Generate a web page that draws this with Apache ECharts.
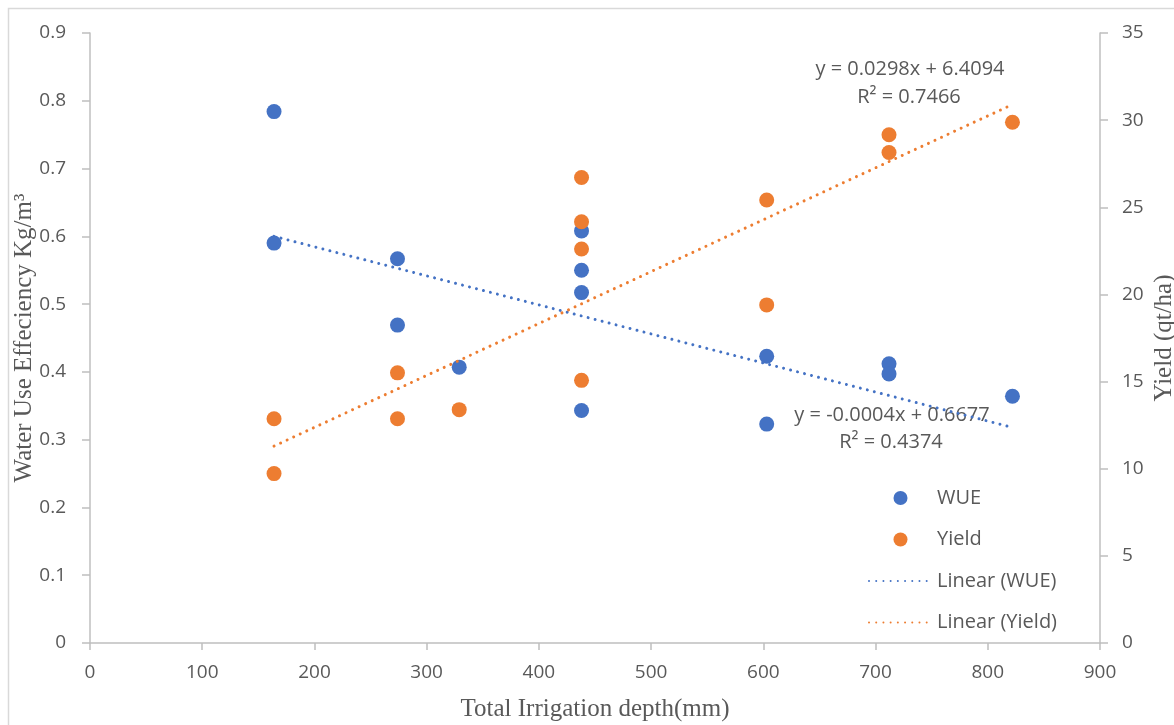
<!DOCTYPE html>
<html>
<head>
<meta charset="utf-8">
<title>WUE and Yield vs Irrigation depth</title>
<script src="https://cdn.jsdelivr.net/npm/echarts@6/dist/echarts.min.js"></script>
<style>
  html, body { margin: 0; padding: 0; background: #fff; }
  #main { width: 1174px; height: 725px; }
</style>
</head>
<body>
<div id="main"></div>
<script>
// --- data ---
// total irrigation depth (mm) of each observation
const depthWue = [164, 164, 274, 274, 329, 438, 438, 438, 438, 603, 603, 712, 712, 822];
const wueValues = [0.784, 0.590, 0.567, 0.469, 0.407, 0.608, 0.550, 0.517, 0.343, 0.423, 0.323, 0.412, 0.397, 0.364];

const depthYield = [164, 164, 274, 274, 329, 438, 438, 438, 438, 603, 603, 712, 712, 822];
const yieldValues = [12.87, 9.72, 15.5, 12.87, 13.39, 26.71, 24.17, 22.61, 15.07, 25.42, 19.40, 29.16, 28.14, 29.88];

// trend line end points (x, y) as drawn
const wueTrendX = [164, 822];
const wueTrendY = [0.600, 0.318];
const yieldTrendX = [164, 822];
const yieldTrendY = [11.30, 30.90];

const wueEquation = ["y = -0.0004x + 0.6677", "R² = 0.4374"];
const yieldEquation = ["y = 0.0298x + 6.4094", "R² = 0.7466"];

const BLUE = "#4472C4";
const ORANGE = "#ED7D31";
const AXIS_GREY = "#bfbfbf";
const LABEL_GREY = "#595959";
const SANS = "'Open Sans', 'Noto Sans', sans-serif";
const SERIF = "'Liberation Serif', 'DejaVu Serif', serif";

function pairs(xs, ys) {
  return xs.map(function (x, i) { return [x, ys[i]]; });
}

var chartDom = document.getElementById("main");
var myChart = echarts.init(chartDom, null, { renderer: "canvas" });

var dotted = { width: 3, type: [0.01, 7.2], cap: "round" };

var option = {
  animation: false,
  backgroundColor: "#fff",
  grid: { left: 90, right: 74, top: 33, bottom: 82, containLabel: false, outerBoundsMode: "none" },
  legend: {
    orient: "vertical",
    left: 863,
    top: 483,
    itemWidth: 63,
    itemHeight: 14,
    itemGap: 21.5,
    textStyle: { color: LABEL_GREY, fontSize: 20, fontFamily: SANS },
    data: [
      { name: "WUE", icon: "circle" },
      { name: "Yield", icon: "circle" },
      // hide the marker that ECharts puts in the middle of line icons
      { name: "Linear (WUE)", itemStyle: { opacity: 0 } },
      { name: "Linear (Yield)", itemStyle: { opacity: 0 } }
    ]
  },
  xAxis: {
    type: "value",
    min: 0,
    max: 900,
    interval: 100,
    name: "Total Irrigation depth(mm)",
    nameLocation: "middle",
    nameGap: 54,
    nameMoveOverlap: false,
    nameTextStyle: { color: LABEL_GREY, fontSize: 25, fontFamily: SERIF },
    axisLine: { show: true, lineStyle: { color: AXIS_GREY, width: 1.5 } },
    axisTick: { show: true, inside: false, length: 7, lineStyle: { color: AXIS_GREY, width: 1.5 } },
    axisLabel: { color: LABEL_GREY, fontSize: 19, fontFamily: SANS, margin: 20 },
    splitLine: { show: false }
  },
  yAxis: [
    {
      type: "value",
      position: "left",
      min: 0,
      max: 0.9,
      interval: 0.1,
      name: "Water Use Effeciency Kg/m³",
      nameLocation: "middle",
      nameRotate: 90,
      nameGap: 53,
      nameMoveOverlap: false,
      nameTextStyle: { color: LABEL_GREY, fontSize: 25, fontFamily: SERIF },
      axisLine: { show: true, lineStyle: { color: AXIS_GREY, width: 1.5 } },
      axisTick: { show: true, inside: false, length: 8, lineStyle: { color: AXIS_GREY, width: 1.5 } },
      axisLabel: { color: LABEL_GREY, fontSize: 19, fontFamily: SANS, margin: 24 },
      splitLine: { show: false }
    },
    {
      type: "value",
      position: "right",
      min: 0,
      max: 35,
      interval: 5,
      name: "Yield (qt/ha)",
      nameLocation: "middle",
      nameRotate: 90,
      nameGap: 52,
      nameMoveOverlap: false,
      nameTextStyle: { color: LABEL_GREY, fontSize: 25, fontFamily: SERIF },
      axisLine: { show: true, lineStyle: { color: AXIS_GREY, width: 1.5 } },
      axisTick: { show: true, inside: false, length: 8, lineStyle: { color: AXIS_GREY, width: 1.5 } },
      axisLabel: { color: LABEL_GREY, fontSize: 19, fontFamily: SANS, margin: 22 },
      splitLine: { show: false }
    }
  ],
  series: [
    {
      name: "WUE",
      type: "scatter",
      yAxisIndex: 0,
      symbolSize: 15,
      itemStyle: { color: BLUE, opacity: 1 },
      data: pairs(depthWue, wueValues),
      z: 2
    },
    {
      name: "Yield",
      type: "scatter",
      yAxisIndex: 1,
      symbolSize: 15,
      itemStyle: { color: ORANGE, opacity: 1 },
      data: pairs(depthYield, yieldValues),
      z: 2
    },
    {
      name: "Linear (WUE)",
      type: "line",
      yAxisIndex: 0,
      symbol: "none",
      lineStyle: Object.assign({ color: BLUE }, dotted),
      itemStyle: { color: BLUE },
      data: pairs(wueTrendX, wueTrendY),
      z: 3
    },
    {
      name: "Linear (Yield)",
      type: "line",
      yAxisIndex: 1,
      symbol: "none",
      lineStyle: Object.assign({ color: ORANGE }, dotted),
      itemStyle: { color: ORANGE },
      data: pairs(yieldTrendX, yieldTrendY),
      z: 3
    }
  ],
  graphic: [
    // light frame around the chart area
    { type: "rect", left: 6, top: 6, shape: { width: 1200, height: 800 }, style: { fill: null, stroke: "#d9d9d9", lineWidth: 1.5 }, silent: true },
    // trend line equations
    { type: "text", x: 910, y: 69, style: { text: yieldEquation[0], fill: LABEL_GREY, font: "20px " + SANS, align: "center", verticalAlign: "middle" } },
    { type: "text", x: 909, y: 97, style: { text: yieldEquation[1], fill: LABEL_GREY, font: "20px " + SANS, align: "center", verticalAlign: "middle" } },
    { type: "text", x: 892, y: 415, style: { text: wueEquation[0], fill: LABEL_GREY, font: "20px " + SANS, align: "center", verticalAlign: "middle" } },
    { type: "text", x: 891, y: 442, style: { text: wueEquation[1], fill: LABEL_GREY, font: "20px " + SANS, align: "center", verticalAlign: "middle" } }
  ]
};

myChart.setOption(option);
</script>
</body>
</html>
